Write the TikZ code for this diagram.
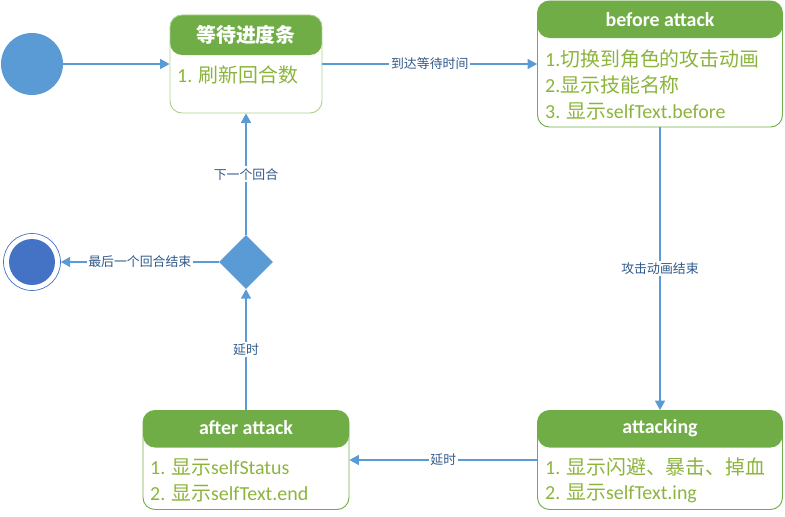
\documentclass[tikz,border=0pt]{standalone}
\usepackage{fontspec}
\setmainfont{Carlito}
\newfontfamily\cjk{Noto Sans CJK SC}
\usetikzlibrary{arrows.meta,shapes.geometric}
\definecolor{headgreen}{RGB}{112,173,71}
\definecolor{lightline}{RGB}{169,209,142}
\definecolor{bodygreen}{RGB}{140,180,60}
\definecolor{flowblue}{RGB}{91,155,213}
\definecolor{labelblue}{RGB}{50,90,140}
\definecolor{endblue}{RGB}{68,114,196}
\tikzset{
	statebox/.style={draw=headgreen, line width=0.8pt, rounded corners=3.6mm, inner sep=0pt},
	headband/.style={path picture={\fill[headgreen] (path picture bounding box.north west) rectangle ([yshift=-#1]path picture bounding box.north east);}},
	headtext/.style={text=white, font=\fontsize{17}{20}\selectfont\bfseries},
	bodytext/.style={text=bodygreen, anchor=west, inner sep=0pt, font=\fontsize{17}{22}\selectfont},
	flow/.style={draw=flowblue, line width=1.1pt, -{Triangle[width=3mm,length=2.8mm]}},
	flowlabel/.style={fill=white, text=labelblue, inner sep=1.5pt, font=\cjk\fontsize{11}{13}\selectfont}
}

\begin{document}
\begin{tikzpicture}[x=0.3mm, y=-0.3mm]
	\useasboundingbox (0,0) rectangle (785,516);
	\node[circle, fill=flowblue, minimum size=18.6mm] at (32,64) (start) {};
	\node[circle, draw=endblue, line width=0.6pt, minimum size=17.1mm, path picture={\fill[endblue] (path picture bounding box.center) circle (6.9mm);}] at (32,262) (end) {};
	\node[diamond, fill=flowblue, inner sep=0pt, minimum width=16.2mm, minimum height=16.2mm] at (246,262) (round-check) {};
	
	\node[statebox, draw=lightline, headband=12mm, minimum width=45.6mm, minimum height=29.4mm] at (246,64) (wait-bar) {};
	\node[headtext] at (246,35) (wait-bar-title) {\cjk\bfseries 等待进度条};
	\node[bodytext] at (177,75) (wait-bar-line-1) {1. {\cjk 刷新回合数}};
	
	\node[statebox, headband=11.1mm, minimum width=73.5mm, minimum height=37.8mm] at (660,64) (before-attack) {};
	\node[headtext] at (660,20) (before-attack-title) {before attack};
	\node[bodytext] at (545,59) (before-attack-line-1) {1.{\cjk 切换到角色的攻击动画}};
	\node[bodytext] at (545,85) (before-attack-line-2) {2.{\cjk 显示技能名称}};
	\node[bodytext] at (545,111) (before-attack-line-3) {3. {\cjk 显示}selfText.before};
	
	\node[statebox, headband=11.1mm, minimum width=73.5mm, minimum height=29.7mm] at (660,460) (attacking) {};
	\node[headtext] at (660,428) (attacking-title) {attacking};
	\node[bodytext] at (545,467) (attacking-line-1) {1. {\cjk 显示闪避、暴击、掉血}};
	\node[bodytext] at (545,493) (attacking-line-2) {2. {\cjk 显示}selfText.ing};
	
	\node[statebox, headband=11.1mm, minimum width=61.8mm, minimum height=29.7mm] at (246,460) (after-attack) {};
	\node[headtext] at (246,428) (after-attack-title) {after attack};
	\node[bodytext] at (150,467) (after-attack-line-1) {1. {\cjk 显示}selfStatus};
	\node[bodytext] at (150,493) (after-attack-line-2) {2. {\cjk 显示}selfText.end};
	
	\draw[flow] (start) -- (wait-bar);
	\draw[flow] (wait-bar) -- node[flowlabel] (label-wait) {到达等待时间} (before-attack);
	\draw[flow] (before-attack) -- node[flowlabel] (label-anim) {攻击动画结束} (attacking);
	\draw[flow] (attacking) -- node[flowlabel] (label-delay-a) {延时} (after-attack);
	\draw[flow] (after-attack) -- node[flowlabel] (label-delay-b) {延时} (round-check);
	\draw[flow] (round-check) -- node[flowlabel] (label-next) {下一个回合} (wait-bar);
	\draw[flow] (round-check) -- node[flowlabel] (label-last) {最后一个回合结束} (end);
\end{tikzpicture}
\end{document}
